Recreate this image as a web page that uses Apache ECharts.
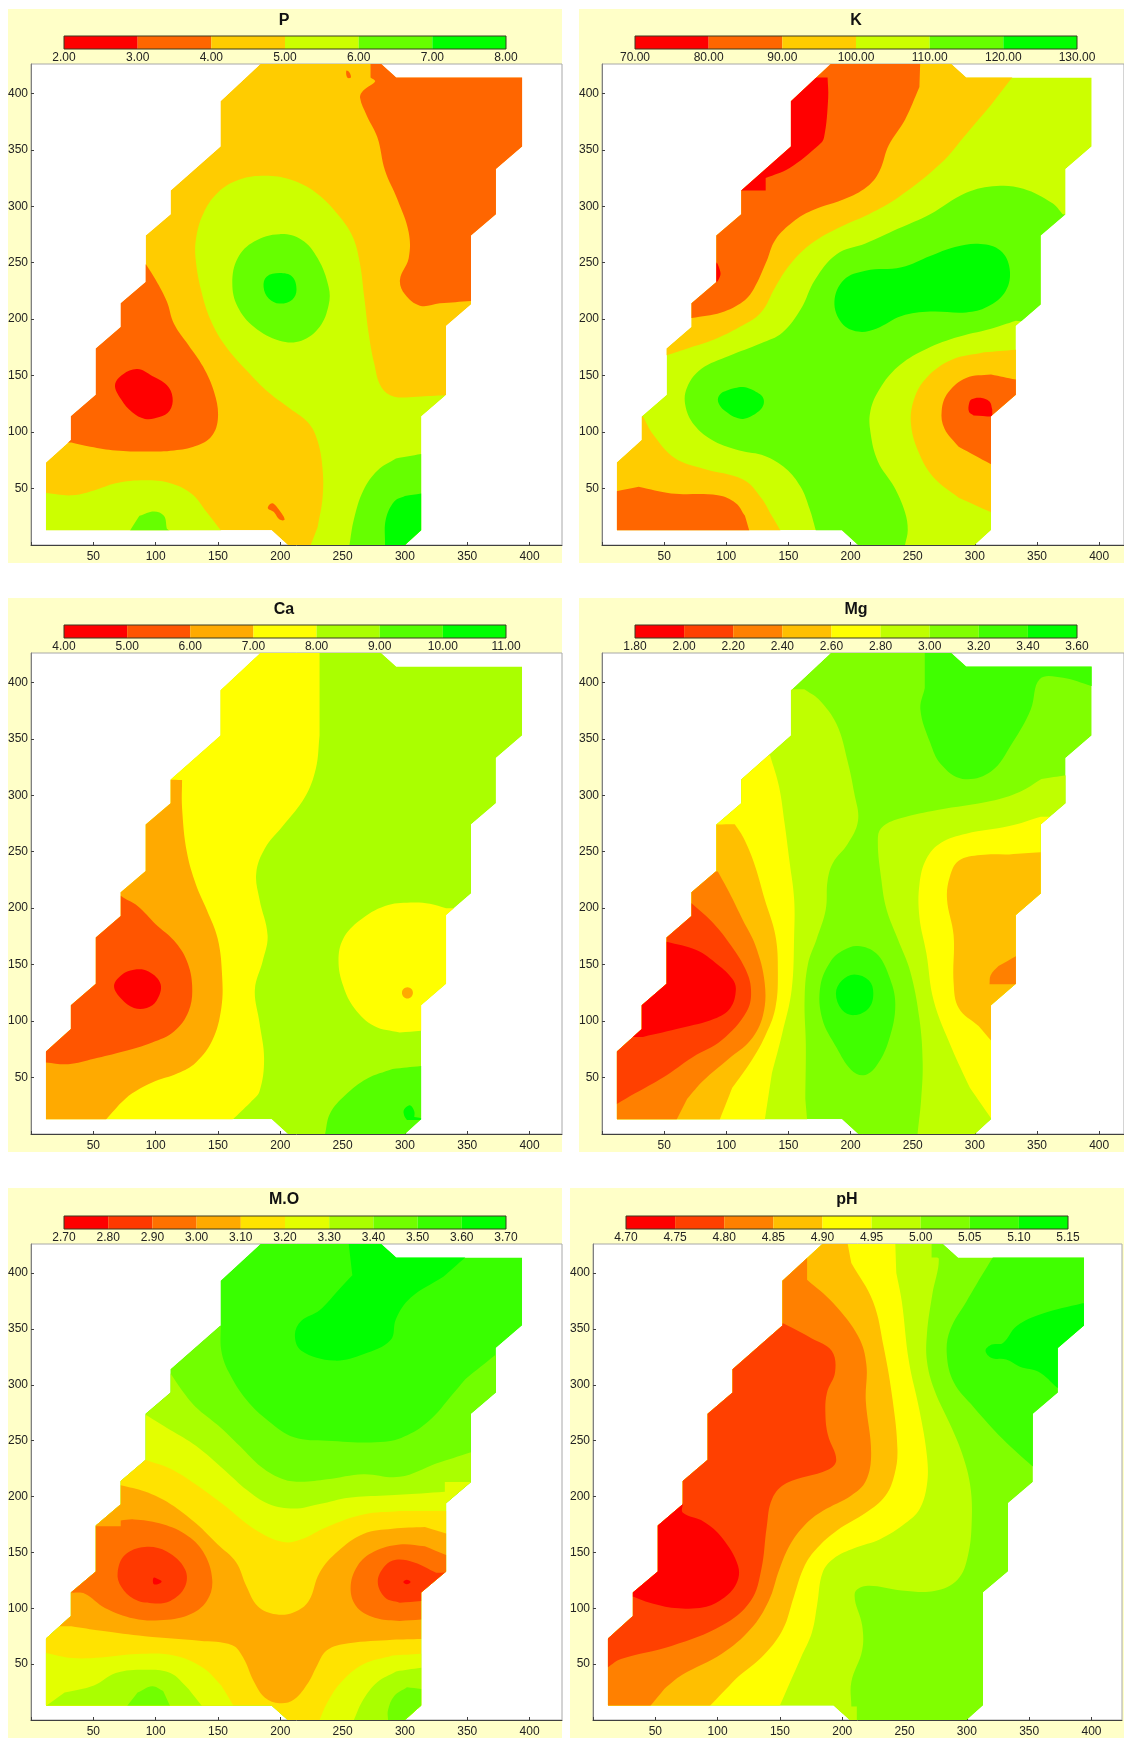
<!DOCTYPE html>
<html>
<head>
<meta charset="utf-8">
<style>html,body{margin:0;padding:0;background:#fff}#c{width:1124px;height:1738px}</style>
<script src="https://cdn.jsdelivr.net/npm/echarts@6/dist/echarts.min.js"></script>
</head>
<body>
<div id="c"></div>
<script>
// Sampled area outline, in map units
const outline = [[184,426],[152,393],[152,353],[112,314],[112,293],[92,274],[92,233],[72,214],[72,193],[52,174],[52,133],[32,114],[32,93],[12,73],[12,13],[193,13],[206,0],[300,0],[313,13],[313,114],[333,133],[333,194],[353,213],[353,274],[373,293],[373,333],[394,353],[394,414],[293,414],[281,426]];
const tickValues = [50,100,150,200,250,300,350,400];

// Contour levels and band colours
const levelsP = [2,3,4,5,6,7,8];
const colorsP = ['#FF0000','#FF6600','#FFCC00','#CCFF00','#66FF00','#00FF00'];
const levelsK = [70,80,90,100,110,120,130];
const colorsK = colorsP;
const levelsCa = [4,5,6,7,8,9,10,11];
const colorsCa = ['#FF0000','#FF5500','#FFAA00','#FFFF00','#AAFF00','#55FF00','#00FF00'];
const levelsMg = [1.8,2.0,2.2,2.4,2.6,2.8,3.0,3.2,3.4,3.6];
const colorsMg = ['#FF0000','#FF4000','#FF8000','#FFBF00','#FFFF00','#BFFF00','#80FF00','#40FF00','#00FF00'];
const levelsMO = [2.7,2.8,2.9,3.0,3.1,3.2,3.3,3.4,3.5,3.6,3.7];
const colorsMO = ['#FF0000','#FF3900','#FF7100','#FFAA00','#FFE300','#E3FF00','#AAFF00','#71FF00','#39FF00','#00FF00'];
const levelsPH = [4.7,4.75,4.8,4.85,4.9,4.95,5.0,5.05,5.1,5.15];
const colorsPH = colorsMg;

// Contour regions: [band index, [[x,y],...]], painted in order
const regionsP = [
[2,outline],
[1,[[272.4,440],[272.4,426],[272.4,414],[272.4,414],[276,410.5],[266.6,402.5],[264,396],[269.5,380],[278,360.6],[284,331.6],[294,306],[303,277],[303,254],[296,235],[300,222],[312,212],[328,214],[353,216],[450,216],[450,440]]],
[1,[[92.3,248.5],[100,235],[109,215.7],[114.7,196],[126.4,177],[138,158],[147,135],[150,113],[145,96.6],[132,87.6],[114.7,83.7],[91.4,82.7],[68,83.7],[47.6,87],[32.4,90.8],[-20,90],[-20,249],[85,249]]],
[0,[[67.4,141.7],[73.9,151.3],[85.5,155.8],[97.2,149.7],[108.9,141.7],[113.6,130.5],[111.2,119],[103,113.3],[91.4,111.7],[81.2,117.5],[72.4,128.8]]],
[3,[[187.7,327],[208,323.6],[228.6,312],[246,293],[257.8,273.7],[263.6,251],[267.4,219],[271,186.7],[275.3,161],[281,140],[291.4,131.4],[310,131.4],[333,132.6],[360,132],[360,-20],[224,-20],[224,-1],[230,16],[233.9,41.9],[233.9,67.6],[230,91.8],[222.8,107.9],[208,120.7],[190.7,135],[173,154.5],[155.6,177],[144,199.6],[136.6,225],[132.3,251],[132.3,270.5],[138,293],[149.8,312],[167.3,323.6]]],
[4,[[199.4,275.3],[217,270.4],[230,254],[238.8,228.6],[238.8,212.5],[231.5,193],[217,181],[199.4,181],[179,193],[165.8,211],[161.5,231.8],[165.8,254],[179,268.8]]],
[5,[[199.4,240.8],[209.6,237.6],[213,226],[209.6,217.3],[199.4,213.8],[190.7,218.3],[186.6,228.6],[189,237.6]]],
[3,[[-20,46],[12,46],[33,44],[50.5,48.3],[68,54.7],[91.4,57.3],[111.8,54.7],[129.3,45],[141,29],[153,12],[153,-10],[-20,-10]]],
[4,[[79,12],[87,25.8],[98.7,29.6],[106.6,25.8],[109,14.5],[112,12],[112,-5],[79,-5]]],
[4,[[255.5,-10],[255.5,0],[259,22.5],[266.6,48.3],[278,66],[292.8,76.6],[313,80.5],[340,80],[340,-10]]],
[5,[[284,-10],[284,0],[284.6,22.5],[291.4,38.6],[300,43.5],[313,45.7],[340,46],[340,-10]]],
[1,[[190,32.8],[193.6,37],[199.4,30.6],[203.5,22.5],[199.4,22.5],[195,29]]],
[1,[[253,420],[255.5,418.5],[256.6,414],[253.7,414]]]
];

const regionsK = [
[3,outline],
[4,[[317.6,318],[339,315.5],[362.5,302.6],[370.6,293],[400,290],[400,190],[333,198.6],[313,191.6],[284,183.5],[258,172],[238,157.8],[223.5,138.4],[216,119],[216,99.8],[222,74],[235,51.5],[243.8,29],[246,13],[243.8,0],[243.8,-10],[172,-10],[172,13],[167,32],[159.8,51.5],[148,67.6],[131,78.9],[110.6,83.7],[90.3,91.8],[74.4,106],[67,124],[68.6,140],[80,156],[102,167.4],[128,178.7],[145,188],[160,209],[171.4,235],[188.8,257.6],[212,267],[238,280],[264,293],[293,312]]],
[5,[[187,215.7],[194.7,235],[212,243],[241,246],[264,256],[284,264],[304.6,266.6],[320.5,260.8],[328,244.7],[324.8,225],[310,210.9],[293,206],[264,206.7],[241,202.8],[220.6,191.6],[206,189],[193,196.4]]],
[5,[[93.2,128.8],[95.5,134],[100.5,136.8],[107,139],[113.5,140],[120,138],[125,135],[129,131.5],[130.3,127],[129,122],[125,117.5],[120,114],[113.5,111.7],[106,113.5],[100.5,117.5],[95.5,122.5]]],
[2,[[330,414],[313,389.6],[293,363.8],[272.7,338],[238,307.5],[214.8,293],[191.7,281.7],[168.5,267],[151,248],[139.5,228.6],[127.9,206],[110.6,193],[90.3,182],[70,174.5],[52,168],[30,168],[30,440],[345,440]]],
[1,[[256,440],[256,426],[255.4,405.6],[243.8,376.7],[230.7,354],[223.5,331.6],[214.8,318.7],[197.5,307.5],[168.5,296],[154,286.5],[139.5,270.4],[132.3,251],[122.2,227],[113.5,215.7],[96,206],[72,201],[40,201],[40,440]]],
[0,[[181.5,414],[182,396],[178.6,360.6],[174.3,354],[151,334],[131.7,325],[131.7,325],[131.7,314],[131.7,314],[100,314],[100,414]]],
[0,[[92,250],[95,243],[95,238],[92,233]]],
[2,[[33,113.7],[41,98],[58.5,77],[81.6,67.6],[113.5,58],[128,41.9],[136.6,25.8],[144,12],[144,-10],[-20,-10],[-20,114]]],
[1,[[-20,47.6],[11.6,47.6],[29.5,51.5],[55.6,45.7],[93.2,44],[107.7,37],[115,25.8],[118.7,12],[118.7,-10],[-20,-10]]],
[2,[[333,172.9],[307.5,170.6],[281.4,164],[261,148],[251,128.8],[248.7,106],[255.4,80.5],[267,59.6],[287,41.9],[313,29],[340,29],[340,173]]],
[1,[[333,146.5],[313,151],[293,148],[278.5,135],[273.3,119],[275.6,103],[287,87],[313,71.5],[340,71],[340,146]]],
[0,[[295.3,125],[297.4,129],[304.6,130.4],[311.8,127],[314,120],[314,113.7],[314,113.7],[299,114.8],[295.3,118]]]
];

const regionsCa = [
[4,outline],
[3,[[231.5,440],[231.5,426],[231.5,353],[228.6,324],[219.8,298.5],[202,272.7],[187.7,253],[180.7,231],[183.3,208],[189.8,176],[186,153.6],[179.6,127.8],[183.3,98.8],[187,66.6],[183.3,37.7],[176,28],[161.5,12.5],[161,-10],[-20,-10],[-20,440]]],
[2,[[121.2,313.6],[121.2,313.6],[121.2,288.8],[125,250],[132.3,221],[141,198.6],[149.8,172.9],[153.3,140.7],[152.7,111.7],[145.4,82.7],[132.3,63.4],[117.7,53.8],[97.2,45.7],[81.2,36],[71,26.4],[59.9,12.5],[59,-10],[-20,-10],[-20,314],[100,314]]],
[1,[[72,214],[72,210.9],[85.5,201.9],[100,185.8],[114.7,171.3],[124.9,153.6],[129.3,131],[126.4,108.5],[114.7,90.8],[97.2,81],[73.9,73],[50.5,66.6],[30,61.8],[12,63.4],[-20,63],[-20,214]]],
[0,[[66.6,131],[72.4,140.7],[82.6,145.5],[94.3,143.9],[104,132.6],[100.7,118],[92.9,111.7],[82.6,111.7],[72.4,119.8]]],
[3,[[304.5,205],[320,204],[333,200],[350,200],[350,91],[313,91.4],[295.8,89.8],[275.3,95.6],[259.3,111.7],[250.5,131],[246.7,153.6],[250.5,172.9],[263.6,189],[284,201.9]]],
[2,[[302,130],[305.2,128.4],[306.4,125],[305.2,121.6],[302,120],[298.8,121.6],[297.6,125],[298.8,128.4]]],
[5,[[313,60.2],[290,57.6],[269.5,49],[252,34.4],[240,18.4],[235.9,0],[235,-10],[340,-10],[340,60]]],
[6,[[299.3,21.6],[304,25.4],[307.5,20],[307.5,15],[313,14],[314,12.5],[301.6,12.5],[299.3,16.7]]]
];

const regionsMg = [
[6,outline],
[5,[[152.6,394],[162.7,394],[174.3,385],[188.8,362.8],[197.5,330.6],[203,301.7],[206,277.5],[197.5,256.6],[186,240.5],[181.5,224.4],[180,198.6],[172.8,172.9],[165.6,150],[163,118],[164,79.5],[163.6,31],[165,12.9],[165,-10],[-20,-10],[-20,394]]],
[4,[[135.2,335.5],[142.4,308],[146.8,276],[151,240.5],[154.6,208],[154.6,176],[152.6,127.8],[145,89],[136.7,53.8],[131,12.6],[131,-10],[-20,-10],[-20,335.5]]],
[3,[[106.8,274.3],[113.5,263],[122.2,240.5],[130.9,208],[139.5,176],[141.5,144],[139.5,111.7],[130.9,86],[119.3,63.4],[104.8,40.9],[94.7,12.6],[94,-10],[-20,-10],[-20,274],[80,274]]],
[2,[[93.2,232.5],[102,214.7],[113.5,189],[123.6,166.5],[130.9,134],[129.5,105],[119.3,82.7],[102,66.6],[81.6,47.3],[68.6,31.2],[60,12.6],[60,-10],[-20,-10],[-20,232.5]]],
[1,[[72,204.4],[87.5,189],[102,169.7],[115,147],[119.9,127.8],[116.4,108.5],[96,82.7],[72.9,68],[49.8,50.5],[26.6,36],[11.6,26.4],[-20,26],[-20,204]]],
[0,[[52,170.3],[75.9,163],[93.2,150],[104.8,137.5],[107.7,127.8],[103.3,111.7],[90.3,102],[64.3,94],[33,86],[10,86],[10,171]]],
[5,[[222,263],[226.4,272.7],[240.9,279.8],[269.8,287],[313,295],[336,303],[353.6,314.5],[373.5,317.8],[400,318],[400,-10],[253.9,-10],[253.9,0],[256.8,31],[258,63.4],[255.4,102],[248,144],[237.9,172.9],[229,198.6],[224.9,224]]],
[4,[[353,281],[327.7,272.7],[293,266],[272.8,258],[261,243.7],[255.4,221],[255.4,192],[261,160],[266.9,118],[281.4,76],[296,41],[313,14],[400,14],[400,281]]],
[3,[[353,249.5],[327.7,247.6],[304.6,247],[287,242],[279.8,227.6],[277.6,208],[282.9,176],[282.9,134],[287,111.7],[303,95.6],[313,82.7],[400,82],[400,249.5]]],
[2,[[340,157],[333,157.4],[319,148.7],[312.7,140.7],[311.8,132.6],[311.8,132.6],[340,132.6]]],
[7,[[259.7,440],[259.7,426],[259.7,395],[256.2,375.7],[264,346.7],[272.7,327.4],[290,314.5],[313,321],[330.4,346.7],[344.9,375.7],[352.3,403],[371,404],[393.7,396.7],[420,396],[420,440]]],
[7,[[206,166.5],[220.6,160],[230.7,140.7],[236,115],[230.7,82.7],[220.6,60],[210.5,52],[200.3,57],[188.8,76.3],[177.2,102],[175.7,131],[184.4,153.6],[194.6,163]]],
[8,[[188.2,124.6],[193,135.9],[203,141.3],[214.8,135.9],[218.3,124.6],[214.8,111.7],[203,105.3],[193,110]]]
];

const regionsMO = [
[8,outline],
[9,[[254.9,440],[254.9,426],[257.8,398],[246,384],[231.5,366.8],[216.9,357.3],[211.7,344.7],[216.9,330.5],[243,321.7],[266.6,327.3],[288.5,340],[292.8,358.9],[304.5,377.8],[330.8,396.7],[348.3,414],[348.3,440]]],
[7,[[152.2,352.6],[152.7,330.5],[158.5,311.6],[173,286.3],[190.7,267.4],[211,253],[237.4,250],[284,249],[304.5,256.4],[322,270.6],[336.7,289.5],[348.4,305],[373,327],[410,327],[410,-20],[-20,-20],[-20,352.6]]],
[6,[[112,310],[120.6,295.8],[132.3,280],[149.8,264],[167.3,245.4],[184.8,226.4],[202.3,215.4],[216.9,213.2],[237.4,215.4],[266.6,220],[295.8,217.6],[325,229.6],[353,239.7],[410,240],[410,-20],[-20,-20],[-20,310]]],
[5,[[92.3,273],[111.8,259.5],[132.3,245.4],[155.6,223.3],[173,206],[190.7,193.3],[211,189.2],[231.5,193.3],[254.9,199],[284,201],[313,202.8],[332,204.3],[332,204.3],[332,213],[332,213],[353,213],[410,213],[410,-20],[-20,-20],[-20,273]]],
[4,[[92.3,232.7],[111.8,224.8],[132.3,210.7],[155.6,191.7],[179,171],[202.3,159.3],[216.9,161.8],[237.4,172.8],[266.6,183.9],[295.8,187],[333,187],[410,187],[410,-20],[-20,-20],[-20,233]]],
[3,[[72,210],[91.4,204.4],[111.8,193.4],[132.3,176],[149.8,157],[164.4,141.3],[173,119.2],[181.9,101.9],[196.5,94.6],[211,96.5],[222.8,106.6],[231.5,131.8],[246,150.7],[266.6,166.5],[290,171.2],[316,172.8],[333,167],[360,167],[360,72],[313,72.5],[290,71.9],[254.9,68.7],[237.4,62.4],[228.6,46.7],[222.8,34],[211,18.3],[199.4,15],[187.7,19.9],[179,34],[170.2,56],[161.5,67],[135.2,71],[91.4,75],[56.4,79.8],[32.4,83.9],[10,84],[10,210]]],
[2,[[40,173.5],[72,173.5],[72,173.5],[72,178.5],[72,178.5],[82.6,179.5],[103,176],[123.5,166.5],[138,150.7],[145.4,125.5],[141,106.6],[126.4,94],[103,89.2],[82.6,90.8],[59.3,100.3],[43.2,113],[32,114],[10,114],[10,173.5]]],
[1,[[69.5,131.8],[75.3,147.6],[91.4,154.8],[108.9,150.7],[123.5,135],[123.5,119.2],[111.8,106.6],[97.2,104.4],[82.6,108.2],[72.4,119.2]]],
[0,[[98.4,127.4],[102.2,126],[104.8,124],[102.2,121.7],[98.4,121.7]]],
[2,[[333,147.6],[316,155.5],[295.8,157],[275.3,150.7],[262,138],[256.4,117.6],[262,100.3],[278.2,90.8],[295.8,88.6],[313,89.9],[345,90],[345,147.6]]],
[1,[[278.2,123.9],[284,138],[292.8,143.5],[307.5,141],[325,131.8],[340,132],[340,106],[313,106.6],[295.8,105],[284,109.7]]],
[0,[[298.7,123.5],[301.5,125.5],[304.5,123.5],[301.5,121.4]]],
[5,[[-20,60],[12,60],[33,55.5],[56.4,56],[85.5,59],[114.7,57.7],[138,46.7],[152.7,30.9],[162.9,12],[162,-10],[-20,-10]]],
[6,[[12,12.6],[27,24.6],[50.5,30.9],[68,42],[91.4,45],[111.8,42],[126.4,27.8],[137.5,12],[137.5,-10],[-20,-10],[-20,12.6]]],
[7,[[76.8,12],[85.5,24.6],[97.2,30.3],[106,26],[111.8,12],[112,-10],[77,-10]]],
[5,[[313,59.3],[290,57.7],[266.6,49.8],[249,34],[237.4,15],[231.5,0],[231,-10],[340,-10],[340,59.3]]],
[6,[[313,46.7],[292.8,43.5],[278,34],[266.6,18.3],[259,0],[259,-10],[340,-10],[340,46.7]]],
[7,[[313,27.8],[301.6,29.3],[291.4,21.4],[286.4,8.8],[286.4,0],[286,-10],[340,-10],[340,28]]]
];

const regionsPH = [
[6,outline],
[7,[[320.8,440],[320.8,414],[311.3,396.7],[299.7,374.6],[286.7,349.4],[283.9,327.3],[289.6,302],[305.5,280],[328.6,251.7],[352.6,227],[400,227],[420,440]]],
[8,[[315,330.5],[320,336],[329,337.4],[340,352.6],[360.4,363.6],[392.7,373],[420,373],[420,297],[372.5,297.4],[357.5,311.6],[343,316],[331.5,322.6],[320,324]]],
[5,[[271.7,440],[271.7,426],[271.7,414],[271.7,414],[277.5,412.5],[272.3,381],[268,346],[268,321],[273.8,295.8],[288,261],[296.9,236],[302.6,210.7],[304,182],[301,147.6],[292.5,125.5],[273.8,115.4],[247.8,116],[218.9,120],[210,112.9],[216,84.5],[216,62.4],[207.3,34],[207.3,12],[207.3,12],[211.7,12],[211.7,12],[211.7,0],[211.7,-10],[-20,-10],[-20,440]]],
[4,[[242.6,440],[242.6,426],[243.4,400],[247.8,374.6],[253.5,321],[262,277],[268,236],[268,210.7],[262,188.6],[250.6,176],[230.4,161.8],[210,153.9],[192.9,144.4],[184.2,131.8],[179.9,103.4],[175.6,78],[166.9,56],[149.6,12],[149,-10],[-20,-10],[-20,440]]],
[3,[[204.4,440],[204.4,426],[207.3,409],[224.7,374.6],[233.3,333.7],[240.5,286],[244.3,242],[242,220],[234.8,201],[218.9,185.4],[195.8,169.7],[179.9,153.9],[169.8,138],[161,109.7],[152.5,81.4],[138,59.3],[114.9,37.2],[93.3,12],[93,-10],[-20,-10],[-20,440]]],
[2,[[171.8,425],[171.8,412.5],[171.8,394],[171.8,394],[192.9,373],[213,343],[219.4,318],[218.9,286],[223.2,239],[218.9,213.8],[207.3,201],[184.2,187],[169.8,174.4],[158.2,157],[149.6,135],[141,106.6],[126.5,81.4],[103.4,59.3],[71.6,40.4],[57.2,27.8],[45.6,12],[45,-10],[-20,-10],[-20,425]]],
[1,[[153,354.8],[175.6,341.5],[191.5,330.5],[194.3,311.6],[187.7,292.6],[186.5,273.7],[188.6,254.8],[195.2,232.7],[188.6,224],[155.4,212],[143.8,198],[139.4,172.8],[135.1,135],[126.5,106.6],[103.4,84.5],[63,66.2],[22.5,54.6],[12,47.3],[-20,47],[-20,355]]],
[0,[[10,194],[72,194],[72,194],[72.2,185.4],[88.9,177.5],[103.4,163.4],[116.4,138],[115,122],[103.4,108],[88.9,100.9],[65.8,100.3],[45.6,105],[32.6,110.4],[10,110]]]
];

// Panel table: layout of each map and its colour bar. xMax keeps the same scale on every map.
const panels = [
 {title:'P',  levels:levelsP,  colors:colorsP,  regions:regionsP,  bgX:8,  bgW:554, bgY:9,    bgH:554, plotX:31,  plotW:531, xMax:426,   plotY:64,   plotH:481, barX:64,  barY:36,   titleX:284},
 {title:'K',  levels:levelsK,  colors:colorsK,  regions:regionsK,  bgX:579,bgW:545, bgY:9,    bgH:554, plotX:602, plotW:522, xMax:420,   plotY:64,   plotH:481, barX:635, barY:36,   titleX:856},
 {title:'Ca', levels:levelsCa, colors:colorsCa, regions:regionsCa, bgX:8,  bgW:554, bgY:598,  bgH:554, plotX:31,  plotW:531, xMax:426,   plotY:653,  plotH:481, barX:64,  barY:625,  titleX:284},
 {title:'Mg', levels:levelsMg, colors:colorsMg, regions:regionsMg, bgX:579,bgW:545, bgY:598,  bgH:554, plotX:602, plotW:522, xMax:420,   plotY:653,  plotH:481, barX:635, barY:625,  titleX:856},
 {title:'M.O',levels:levelsMO, colors:colorsMO, regions:regionsMO, bgX:8,  bgW:554, bgY:1188, bgH:550, plotX:31,  plotW:531, xMax:426,   plotY:1244, plotH:491, barX:64,  barY:1216, titleX:284},
 {title:'pH', levels:levelsPH, colors:colorsPH, regions:regionsPH, bgX:570,bgW:554, bgY:1188, bgH:550, plotX:593, plotW:529, xMax:424.5, plotY:1244, plotH:491, barX:626, barY:1216, titleX:847}
];

const FONT = '"Liberation Sans", Arial, sans-serif';
const TEXT = '#222222';
const Y_MAX = 426;

function insideOutline(q){
  let c = false;
  for (let i=0, j=outline.length-1; i<outline.length; j=i++){
    const a=outline[i], b=outline[j];
    if ((a[1]>q[1]) !== (b[1]>q[1]) && q[0] < (b[0]-a[0])*(q[1]-a[1])/(b[1]-a[1])+a[0]) c=!c;
  }
  return c;
}
// Repeat points next to or beyond the outline so that curve smoothing keeps them as corners
function cornered(pts){
  const out = [], n = pts.length;
  pts.forEach(function(q,i){
    const near = !insideOutline(q) || !insideOutline(pts[(i+1)%n]) || !insideOutline(pts[(i+n-1)%n]);
    out.push(q);
    if (near) out.push(q);
  });
  return out;
}

const option = {animation:false, backgroundColor:'#ffffff', title:[], grid:[], xAxis:[], yAxis:[], series:[],
  graphic:{elements:[]}};

panels.forEach(function(p){
  option.graphic.elements.push({type:'rect', z:-10, silent:true,
    shape:{x:p.bgX, y:p.bgY, width:p.bgW, height:p.bgH}, style:{fill:'#FFFFC8'}});
  option.title.push({text:p.title, left:p.titleX, top:p.bgY+4, padding:0, textAlign:'center',
    textStyle:{fontFamily:FONT, fontSize:16, fontWeight:'bold', color:'#111'}});

  const shapes = p.regions.map(function(r){
    return r[1] === outline ? r[1] : cornered(r[1]);
  });

  // map
  const gi = option.grid.length;
  option.grid.push({left:p.plotX, top:p.plotY, width:p.plotW, height:p.plotH, show:true,
    backgroundColor:'#ffffff', borderColor:'#a8a8a8', borderWidth:1, containLabel:false});
  option.xAxis.push({type:'value', gridIndex:gi, min:0, max:p.xMax, splitLine:{show:false},
    axisLine:{show:true, onZero:false, lineStyle:{color:'#404040', width:1}},
    axisTick:{show:true, inside:true, length:3, customValues:[0].concat(tickValues), lineStyle:{color:'#404040'}},
    axisLabel:{show:true, margin:6, customValues:tickValues, fontFamily:FONT, fontSize:12, color:TEXT}});
  option.yAxis.push({type:'value', gridIndex:gi, min:0, max:Y_MAX, splitLine:{show:false},
    axisLine:{show:true, onZero:false, lineStyle:{color:'#808080', width:1}},
    axisTick:{show:true, inside:true, length:3, customValues:tickValues, lineStyle:{color:'#404040'}},
    axisLabel:{show:true, margin:3, padding:[4,0,0,0], customValues:tickValues, fontFamily:FONT, fontSize:12, color:TEXT}});
  option.series.push({type:'custom', coordinateSystem:'cartesian2d', xAxisIndex:gi, yAxisIndex:gi,
    silent:true, clip:true, z:3,
    data:p.regions.map(function(r,i){return [i];}),
    renderItem:function(params, api){
      const i = api.value(0), r = p.regions[i];
      return {type:'polygon',
        shape:{points:shapes[i].map(function(q){return api.coord(q);}), smooth:r[1]===outline?0:0.38},
        style:{fill:p.colors[r[0]], stroke:null},
        clipPath:{type:'polygon', shape:{points:outline.map(function(q){return api.coord(q);})}}};
    }});

  // colour bar
  const bi = option.grid.length;
  const n = p.levels.length;
  option.grid.push({left:p.barX, top:p.barY, width:442, height:13, show:false});
  option.xAxis.push({type:'value', gridIndex:bi, min:p.levels[0], max:p.levels[n-1], splitLine:{show:false},
    axisLine:{show:false}, axisTick:{show:false},
    axisLabel:{show:true, margin:3, customValues:p.levels, fontFamily:FONT, fontSize:12, color:TEXT,
      formatter:function(v){return Number(v).toFixed(2);}}});
  option.yAxis.push({type:'value', gridIndex:bi, min:0, max:1, show:false});
  option.series.push({type:'custom', coordinateSystem:'cartesian2d', xAxisIndex:bi, yAxisIndex:bi, silent:true, clip:false, z:3,
    data:p.colors.map(function(c,i){return [p.levels[i], p.levels[i+1], i];}),
    renderItem:function(params, api){
      const a = api.coord([api.value(0),1]), b = api.coord([api.value(1),0]);
      return {type:'rect', shape:{x:a[0], y:a[1], width:b[0]-a[0], height:b[1]-a[1]},
        style:{fill:p.colors[api.value(2)]}};
    }});
  option.series.push({type:'custom', coordinateSystem:'cartesian2d', xAxisIndex:bi, yAxisIndex:bi, silent:true, clip:false, z:4,
    data:[[p.levels[0], p.levels[n-1]]],
    renderItem:function(params, api){
      const a = api.coord([api.value(0),1]), b = api.coord([api.value(1),0]);
      return {type:'rect', shape:{x:a[0], y:a[1], width:b[0]-a[0], height:b[1]-a[1]},
        style:{fill:null, stroke:'#3a3a20', lineWidth:1}};
    }});
});

const chart = echarts.init(document.getElementById('c'), null, {renderer:'canvas', width:1124, height:1738});
chart.setOption(option);
</script>
</body>
</html>
